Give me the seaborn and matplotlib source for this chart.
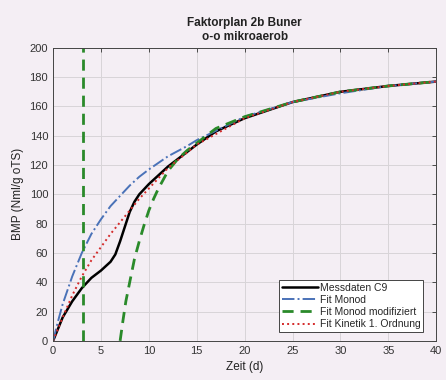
import matplotlib
matplotlib.use("Agg")
import matplotlib.pyplot as plt
import numpy as np
import seaborn as sns

# measured data (Messdaten C9)
t_mess = [0, 0.5, 1, 2, 3, 4, 5, 6, 6.5, 7, 7.5, 8, 8.5, 9, 10, 11, 12, 14, 15, 17, 20, 25, 30, 35, 40]
bmp_mess = [0, 8, 16, 27, 36, 43, 48, 54, 59, 68, 78, 88, 95, 100, 107, 113, 119, 129, 134, 143, 152, 163, 170, 174, 177]

# Fit Monod
t_monod = [0, 0.5, 1, 2, 3, 4, 5, 6, 7, 8, 9, 10, 12, 14, 15, 20, 25, 30, 35, 40]
bmp_monod = [0, 13, 25, 44, 60, 73, 83, 92, 99, 106, 112, 117, 126, 133, 137, 153, 163, 169, 174, 177]

# Fit Monod modifiziert (pole near t=3.15, second branch from t=7)
t_mod_a = [3.15, 3.15]
bmp_mod_a = [0, 205]
t_mod_b = [7, 7.3, 7.6, 8, 8.5, 9, 9.5, 10, 10.5, 11, 11.5, 12, 13, 14, 15, 17, 20, 25, 30, 35, 40]
bmp_mod_b = [0, 14, 27, 40, 56, 68, 79, 89, 97, 104, 110, 116, 124, 130, 135, 145, 153, 163, 170, 174, 177]

# Fit Kinetik 1. Ordnung
t_kin = [0, 1, 2, 3, 4, 5, 6, 7, 8, 9, 10, 12, 15, 20, 25, 30, 35, 40]
bmp_kin = [0, 16, 31, 44, 55, 64, 73, 81, 89, 97, 104, 118, 134, 152, 163, 170, 174, 177]

bg = "#f4eef4"
sns.set_style("white")
plt.rcParams["font.family"] = ["Liberation Sans", "DejaVu Sans"]

fig, ax = plt.subplots(figsize=(4.46, 3.80), dpi=100)
fig.patch.set_facecolor(bg)
ax.set_facecolor(bg)
fig.subplots_adjust(left=0.119, right=0.978, top=0.874, bottom=0.103)

dash = (0, (4, 2.5))
sns.lineplot(x=t_mess, y=bmp_mess, ax=ax, color="black", lw=1.8, label="Messdaten C9", estimator=None)
sns.lineplot(x=t_monod, y=bmp_monod, ax=ax, color="#4a72b8", lw=1.4, linestyle="-.", label="Fit Monod", estimator=None)
sns.lineplot(x=t_mod_a, y=bmp_mod_a, ax=ax, color="#2a8a2a", lw=2, linestyle=dash, label="Fit Monod modifiziert", estimator=None, sort=False)
sns.lineplot(x=t_mod_b, y=bmp_mod_b, ax=ax, color="#2a8a2a", lw=2, linestyle=dash, estimator=None)
sns.lineplot(x=t_kin, y=bmp_kin, ax=ax, color="#d42a2a", lw=1.4, linestyle=":", label="Fit Kinetik 1. Ordnung", estimator=None)

ax.set_xlim(0, 40)
ax.set_ylim(0, 200)
ax.set_xticks(np.arange(0, 41, 5))
ax.set_yticks(np.arange(0, 201, 20))
ax.grid(True, color="#d8d4d8", lw=0.7)
ax.tick_params(direction="in", top=True, right=True, labelsize=8, colors="#333333", length=3, width=0.6)
for s in ax.spines.values():
    s.set_color("#444444")
    s.set_linewidth(0.7)

ax.set_xlabel("Zeit (d)", fontsize=8.5, color="#222222")
ax.set_ylabel("BMP (Nml/g oTS)", fontsize=8.5, color="#222222")
ax.set_title("Faktorplan 2b Buner\no-o mikroaerob", fontsize=8.5, fontweight="bold", color="#222222", linespacing=1.15)

leg = ax.legend(loc="lower right", bbox_to_anchor=(0.966, 0.031), borderaxespad=0,
                fontsize=7.5, handlelength=3.5, handletextpad=0.15,
                labelspacing=0.2, borderpad=0.25, fancybox=False, framealpha=1,
                facecolor="white", edgecolor="#444444")
leg.get_frame().set_linewidth(0.7)

fig.savefig("out.png", dpi=100, facecolor=bg)
